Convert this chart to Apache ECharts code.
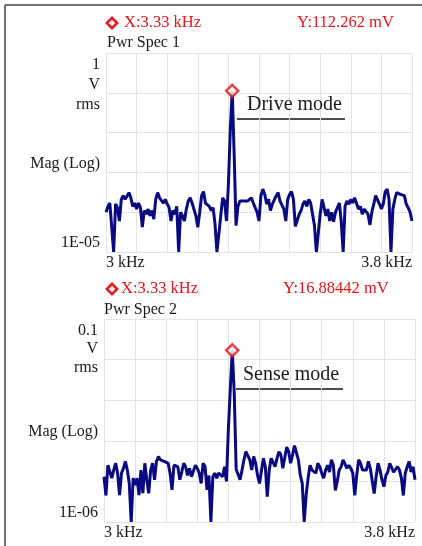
<!DOCTYPE html>
<html>
<head>
<meta charset="utf-8">
<script src="https://cdn.jsdelivr.net/npm/echarts@6/dist/echarts.min.js"></script>
<style>
  html, body { margin: 0; padding: 0; background: #fff; }
  #main { width: 422px; height: 546px; }
</style>
</head>
<body>
<div id="main"></div>
<script>
// spectrum sampling: 3000 Hz .. 3800 Hz, 5 Hz bins
var freqStart = 3000;
var freqStep = 5;

// Pwr Spec 1, magnitude in V rms
var spec1 = [
  1.0e-4, 1.4e-4, 1.7e-4, 1.6e-4, 1.0e-5, 1.6e-4, 1.3e-4, 6.0e-5, 2.1e-4, 2.6e-4,
  2.1e-4, 2.1e-4, 3.1e-4, 2.3e-4, 1.4e-4, 1.7e-4, 1.2e-4, 1.7e-4, 1.3e-4, 4.2e-5,
  1.1e-4, 8.9e-5, 1.2e-4, 8.1e-5, 1.1e-4, 6.7e-5, 2.1e-4, 3.1e-4, 2.3e-4, 2.1e-4,
  1.7e-4, 2.1e-4, 1.6e-4, 1.3e-4, 6.0e-5, 1.1e-4, 8.9e-5, 1.4e-4, 1.0e-5, 1.0e-4,
  8.1e-5, 6.0e-5, 1.2e-4, 1.9e-4, 2.3e-4, 1.7e-4, 1.6e-4, 8.1e-5, 4.2e-5, 1.0e-4,
  2.6e-4, 3.3e-4, 1.7e-4, 1.7e-4, 1.4e-4, 1.1e-4, 1.3e-4, 5.0e-5, 1.0e-5, 1.0e-5,
  8.1e-5, 2.3e-4, 1.9e-4, 6.0e-5, 5.0e-4, 1.2e-2, 0.112262, 3.0e-3, 4.6e-5, 1.4e-4,
  1.9e-4, 1.7e-4, 1.9e-4, 1.7e-4, 1.9e-4, 1.9e-4, 2.3e-4, 1.7e-4, 1.3e-4, 1.0e-4,
  6.0e-5, 2.6e-4, 3.8e-4, 2.8e-4, 1.6e-4, 2.1e-4, 1.1e-4, 1.6e-4, 1.6e-4, 2.6e-4,
  3.1e-4, 1.9e-4, 2.1e-4, 1.2e-4, 6.0e-5, 2.1e-4, 2.8e-4, 3.3e-4, 2.1e-4, 4.4e-5,
  4.2e-5, 8.9e-5, 1.1e-4, 1.6e-4, 1.9e-4, 1.4e-4, 2.1e-4, 1.7e-4, 1.7e-4, 4.6e-5,
  1.0e-5, 1.0e-5, 8.9e-5, 2.1e-4, 2.1e-4, 8.1e-5, 1.2e-4, 6.0e-5, 1.0e-4, 5.8e-5,
  1.0e-4, 1.0e-4, 1.7e-4, 5.8e-5, 1.0e-5, 1.4e-4, 1.9e-4, 1.6e-4, 2.1e-4, 1.7e-4,
  2.3e-4, 2.1e-4, 1.2e-4, 1.4e-4, 8.9e-5, 1.2e-4, 1.2e-4, 8.9e-5, 4.8e-5, 1.0e-4,
  1.6e-4, 2.6e-4, 2.8e-4, 1.6e-4, 1.2e-4, 1.6e-4, 3.3e-4, 3.8e-4, 2.1e-4, 1.0e-5,
  1.2e-4, 2.1e-4, 3.1e-4, 2.8e-4, 2.8e-4, 3.1e-4, 2.6e-4, 1.6e-4, 1.3e-4, 1.0e-4,
  6.0e-5
];

// Pwr Spec 2, magnitude in V rms
var spec2 = [
  1.3e-5, 4.5e-6, 2.5e-5, 2.3e-5, 1.2e-5, 1.9e-5, 2.8e-5, 1.6e-5, 4.6e-6, 1.6e-5,
  2.1e-5, 3.1e-5, 1.9e-5, 8.9e-6, 1.0e-6, 1.2e-5, 8.1e-6, 1.2e-5, 4.6e-6, 1.9e-5,
  5.1e-6, 2.8e-5, 1.1e-5, 5.1e-6, 1.9e-5, 2.8e-5, 1.1e-5, 3.1e-5, 4.1e-5, 3.4e-5,
  3.7e-5, 3.1e-5, 3.4e-5, 2.8e-5, 1.6e-5, 6.2e-6, 2.5e-5, 2.3e-5, 2.3e-5, 1.1e-5,
  1.7e-5, 2.8e-5, 2.3e-5, 1.4e-5, 2.1e-5, 1.3e-5, 1.2e-5, 2.5e-5, 2.1e-5, 1.6e-5,
  8.9e-6, 2.8e-5, 2.3e-5, 6.2e-6, 1.4e-5, 1.0e-6, 1.3e-5, 1.6e-5, 1.2e-5, 1.6e-5,
  1.6e-5, 1.3e-5, 2.3e-5, 1.0e-5, 2.0e-4, 2.0e-3, 0.01688442, 1.5e-3, 2.0e-5, 2.1e-5,
  1.1e-5, 1.9e-5, 3.4e-5, 5.4e-5, 5.9e-5, 3.4e-5, 1.9e-5, 4.1e-5, 2.8e-5, 1.4e-5,
  8.9e-6, 8.9e-6, 3.7e-5, 2.3e-5, 4.2e-6, 1.9e-5, 3.7e-5, 3.7e-5, 2.3e-5, 3.7e-5,
  5.4e-5, 4.5e-5, 2.1e-5, 1.9e-5, 7.0e-5, 5.4e-5, 2.8e-5, 4.5e-5, 7.6e-5, 7.6e-5,
  3.4e-5, 1.4e-5, 8.9e-6, 1.0e-6, 4.6e-6, 1.2e-5, 2.5e-5, 1.9e-5, 2.1e-5, 1.6e-5,
  2.8e-5, 2.3e-5, 1.6e-5, 1.2e-5, 1.9e-5, 2.5e-5, 1.7e-5, 3.4e-5, 2.5e-5, 6.0e-6,
  1.0e-5, 1.9e-5, 2.3e-5, 3.4e-5, 3.1e-5, 2.1e-5, 2.5e-5, 2.1e-5, 1.6e-5, 4.5e-6,
  1.4e-5, 3.4e-5, 2.8e-5, 1.9e-5, 1.9e-5, 1.9e-5, 3.1e-5, 2.1e-5, 2.3e-5, 5.0e-6,
  1.3e-5, 2.8e-5, 1.9e-5, 1.1e-5, 7.4e-6, 1.4e-5, 1.7e-5, 2.8e-5, 2.8e-5, 1.7e-5,
  1.6e-5, 2.3e-5, 1.9e-5, 1.2e-5, 4.5e-6, 1.6e-5, 2.3e-5, 3.1e-5, 1.7e-5, 2.3e-5,
  1.1e-5
];

// cursor readouts
var cursor1 = [3330, 0.112262];
var cursor2 = [3330, 0.01688442];

var FONT = '"Liberation Serif", "Times New Roman", serif';
var RED = '#e5161b';
var INK = '#1a1a1a';
var NAVY = '#0a0a80';
var GRIDC = '#e4e4e4';

function pairs(vals) {
  var out = [];
  for (var i = 0; i < vals.length; i++) {
    out.push([freqStart + i * freqStep, vals[i]]);
  }
  return out;
}

function xAxisOf(idx) {
  return {
    type: 'value', gridIndex: idx, min: 3000, max: 3800, interval: 80,
    axisLine: {show: false}, axisTick: {show: false},
    splitLine: {show: true, lineStyle: {color: GRIDC, width: 1}},
    axisLabel: {
      margin: 3, fontFamily: FONT, fontSize: 16, color: INK,
      alignMinLabel: 'left', alignMaxLabel: 'right',
      formatter: function (v) {
        if (v === 3000) return '3 kHz';
        if (v === 3800) return '3.8 kHz';
        return '';
      }
    }
  };
}

// end labels sit inside the plot: top one pushed down, bottom one pushed up
function yAxisOf(idx, lo, hi, loTxt, hiTxt) {
  return {
    type: 'log', gridIndex: idx, logBase: 10, min: lo, max: hi, splitNumber: 5,
    axisLine: {show: false}, axisTick: {show: false},
    splitLine: {show: true, lineStyle: {color: GRIDC, width: 1}},
    axisLabel: {
      margin: 6, fontFamily: FONT, fontSize: 16, color: INK,
      formatter: function (v) {
        if (v > hi * 0.5) return '{hi|' + hiTxt + '}';
        if (v < lo * 2) return '{lo|' + loTxt + '}';
        return '';
      },
      rich: {
        hi: {fontFamily: FONT, fontSize: 16, color: INK, padding: [23, 0, 0, 0]},
        lo: {fontFamily: FONT, fontSize: 16, color: INK, padding: [0, 0, 18, 0]}
      }
    }
  };
}

function txt(s, x, y, size, color, align) {
  return {
    type: 'text', x: x, y: y, z: 10,
    style: {text: s, font: size + 'px ' + FONT, fill: color, align: align || 'left', verticalAlign: 'middle'}
  };
}

function hollowDiamond(x, y) {
  return {
    type: 'rect', x: x, y: y, rotation: Math.PI / 4, z: 10,
    shape: {x: -3.6, y: -3.6, width: 7.2, height: 7.2},
    style: {fill: '#fff', stroke: RED, lineWidth: 2.6}
  };
}

var chart = echarts.init(document.getElementById('main'), null, {renderer: 'canvas'});

var option = {
  animation: false,
  backgroundColor: '#fff',
  grid: [
    {left: 106, top: 53, width: 306, height: 199, show: false},
    {left: 104, top: 319, width: 311, height: 203, show: false}
  ],
  xAxis: [xAxisOf(0), xAxisOf(1)],
  yAxis: [
    yAxisOf(0, 1e-5, 1, '1E-05', '1'),
    yAxisOf(1, 1e-6, 0.1, '1E-06', '0.1')
  ],
  series: [
    {
      name: 'Pwr Spec 1', type: 'line', xAxisIndex: 0, yAxisIndex: 0,
      data: pairs(spec1), showSymbol: false, symbol: 'none',
      lineStyle: {color: NAVY, width: 3}, z: 2
    },
    {
      name: 'Pwr Spec 2', type: 'line', xAxisIndex: 1, yAxisIndex: 1,
      data: pairs(spec2), showSymbol: false, symbol: 'none',
      lineStyle: {color: NAVY, width: 3}, z: 2
    },
    {
      name: 'cursor 1', type: 'scatter', xAxisIndex: 0, yAxisIndex: 0,
      data: [cursor1], symbol: 'diamond', symbolSize: 12,
      itemStyle: {color: '#fff', borderColor: RED, borderWidth: 2.6}, z: 5
    },
    {
      name: 'cursor 2', type: 'scatter', xAxisIndex: 1, yAxisIndex: 1,
      data: [cursor2], symbol: 'diamond', symbolSize: 12,
      itemStyle: {color: '#fff', borderColor: RED, borderWidth: 2.6}, z: 5
    }
  ],
  graphic: [
    // frame
    {type: 'line', shape: {x1: 5, y1: 5, x2: 422, y2: 5}, style: {stroke: '#444', lineWidth: 1.5}},
    {type: 'line', shape: {x1: 5, y1: 5, x2: 5, y2: 546}, style: {stroke: '#444', lineWidth: 1.5}},

    // plot 1 header
    hollowDiamond(112, 23),
    txt('X:3.33 kHz', 124, 23, 16.5, RED),
    txt('Y:112.262 mV', 297, 23, 16.5, RED),
    txt('Pwr Spec 1', 107, 43, 16, INK),
    txt('V', 100, 85, 16, INK, 'right'),
    txt('rms', 100, 105, 16, INK, 'right'),
    txt('Mag (Log)', 100, 164, 16, INK, 'right'),
    txt('Drive mode', 247, 105, 20, INK),
    {type: 'line', shape: {x1: 237, y1: 119, x2: 345, y2: 119}, style: {stroke: '#111', lineWidth: 1.5}},

    // plot 2 header
    hollowDiamond(112, 289),
    txt('X:3.33 kHz', 121, 289, 16.5, RED),
    txt('Y:16.88442 mV', 283, 289, 16.5, RED),
    txt('Pwr Spec 2', 104, 310, 16, INK),
    txt('V', 98, 349, 16, INK, 'right'),
    txt('rms', 98, 368, 16, INK, 'right'),
    txt('Mag (Log)', 98, 432, 16, INK, 'right'),
    txt('Sense mode', 243, 375, 20, INK),
    {type: 'line', shape: {x1: 236, y1: 389, x2: 343, y2: 389}, style: {stroke: '#111', lineWidth: 1.5}}
  ]
};

chart.setOption(option);
</script>
</body>
</html>
